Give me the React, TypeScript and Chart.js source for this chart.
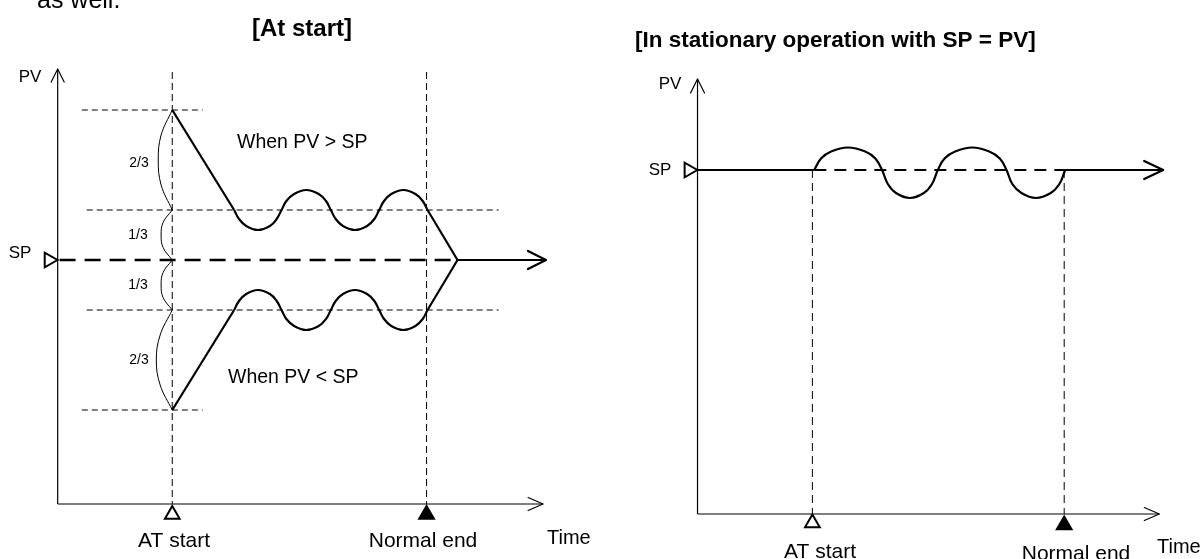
import React, { useEffect, useRef } from "react";
import { Chart, registerables } from "chart.js";

Chart.register(...registerables);

// ---------------- LEFT PANEL: [At start] ----------------
// time in half-wave units (0 = PV axis), PV in units of 1/3 band (0 = SP)
const lAtStart = 2.37;
const lNormalEnd = 7.63;
const lTimeAxisLevel = -4.88;
const lTimeAxisEnd = 10.04;
const lPvAxisTop = 3.82;
const lVLineTop = 3.76;
const lStartLevels = [3, -3];
const lBandLevels = [1, -1];

const lUpperApproachX = [2.37, 3.65];
const lUpperApproachY = [3, 1];
const lLowerApproachX = [2.37, 3.65];
const lLowerApproachY = [-3, -1];

const lOscX = [3.65, 3.75, 3.9, 4.14, 4.39, 4.53, 4.63, 4.73, 4.89, 5.14, 5.4, 5.55, 5.65, 5.75, 5.9, 6.15, 6.4, 6.55, 6.65, 6.75, 6.9, 7.15, 7.4, 7.55, 7.65];
const lUpperOscY = [1, 0.82, 0.68, 0.6, 0.68, 0.82, 1, 1.18, 1.32, 1.4, 1.32, 1.18, 1, 0.82, 0.68, 0.6, 0.68, 0.82, 1, 1.18, 1.32, 1.4, 1.32, 1.18, 1];
const lLowerOscY = [-1, -0.82, -0.68, -0.6, -0.68, -0.82, -1, -1.18, -1.32, -1.4, -1.32, -1.18, -1, -0.82, -0.68, -0.6, -0.68, -0.82, -1, -1.18, -1.32, -1.4, -1.32, -1.18, -1];

const lUpperExitX = [7.65, 8.27];
const lUpperExitY = [1, 0];
const lLowerExitX = [7.65, 8.27];
const lLowerExitY = [-1, 0];
const lSettledX = [8.27, 10.1];
const lSettledY = [0, 0];
const lSpDashX = [0.04, 8.27];

const lBraceX = [
  [2.37, 2.14, 2.08, 2.14, 2.37],
  [2.37, 2.18, 2.14, 2.18, 2.37],
  [2.37, 2.18, 2.14, 2.18, 2.37],
  [2.37, 2.12, 2.04, 2.12, 2.37],
];
const lBraceY = [
  [3, 2.5, 2, 1.5, 1],
  [1, 0.75, 0.5, 0.25, 0],
  [0, -0.25, -0.5, -0.75, -1],
  [-1, -1.5, -2, -2.5, -3],
];
const lFractionLabels = ["2/3", "1/3", "1/3", "2/3"];

// ---------------- RIGHT PANEL: stationary SP = PV ----------------
const rAtStart = 2.39;
const rNormalEnd = 7.63;
const rTimeAxisLevel = -6.88;
const rTimeAxisEnd = 9.61;
const rPvAxisTop = 1.82;

const rBeforeX = [0, 2.43];
const rBeforeY = [0, 0];
const rOscX = [2.43, 2.57, 2.78, 3.13, 3.49, 3.7, 3.84, 3.96, 4.13, 4.42, 4.71, 4.88, 5.0, 5.14, 5.36, 5.72, 6.07, 6.29, 6.43, 6.55, 6.74, 7.04, 7.35, 7.53, 7.65];
const rOscY = [0, 0.23, 0.37, 0.45, 0.37, 0.23, 0, -0.28, -0.46, -0.56, -0.46, -0.28, 0, 0.23, 0.37, 0.45, 0.37, 0.23, 0, -0.28, -0.46, -0.56, -0.46, -0.28, 0];
const rAfterX = [7.65, 9.69];
const rAfterY = [0, 0];
const rSpDashX = [2.43, 7.65];

// ---------------- helpers ----------------
type XY = { x: number; y: number };
const zip = (xs: number[], ys: number[]): XY[] => xs.map((x, i) => ({ x, y: ys[i] }));

const FONT = '"Liberation Sans", Arial, Helvetica, sans-serif';

const seg = (data: XY[], extra: any = {}) => ({
  data,
  showLine: true,
  pointRadius: 0,
  borderColor: "#000",
  borderWidth: 1,
  fill: false,
  clip: false,
  tension: 0,
  ...extra,
});

const marker = (x: number, y: number, filled: boolean, rotation = 0) => ({
  data: [{ x, y }],
  showLine: false,
  pointStyle: "triangle",
  pointRadius: 8.5,
  pointRotation: rotation,
  pointBorderWidth: 2,
  pointBorderColor: "#000",
  pointBackgroundColor: filled ? "#000" : "#fff",
  clip: false,
});

type TextItem = { text: string; x: number; y: number; font: string; align?: CanvasTextAlign; baseline?: CanvasTextBaseline };
type Arrow = { x: number; y: number; dir: "up" | "right"; len: number; half: number; w: number };

const overlay = (texts: TextItem[], arrows: Arrow[]) => ({
  id: "overlay",
  beforeDraw(chart: any) {
    const c = chart.ctx;
    c.save();
    c.fillStyle = "#fff";
    c.fillRect(0, 0, chart.width, chart.height);
    c.restore();
  },
  afterDatasetsDraw(chart: any) {
    const c = chart.ctx;
    const xs = chart.scales.x;
    const ys = chart.scales.y;
    c.save();
    c.strokeStyle = "#000";
    c.lineCap = "round";
    c.lineJoin = "round";
    for (const a of arrows) {
      const tx = xs.getPixelForValue(a.x);
      const ty = ys.getPixelForValue(a.y);
      c.lineWidth = a.w;
      c.beginPath();
      if (a.dir === "right") {
        c.moveTo(tx - a.len, ty - a.half);
        c.lineTo(tx, ty);
        c.lineTo(tx - a.len, ty + a.half);
      } else {
        c.moveTo(tx - a.half, ty + a.len);
        c.lineTo(tx, ty);
        c.lineTo(tx + a.half, ty + a.len);
      }
      c.stroke();
    }
    c.fillStyle = "#000";
    for (const t of texts) {
      c.font = t.font;
      c.textAlign = t.align ?? "left";
      c.textBaseline = t.baseline ?? "middle";
      c.fillText(t.text, t.x, t.y);
    }
    c.restore();
  },
});

const baseOptions = (xmin: number, xmax: number, ymin: number, ymax: number, padding: any) => ({
  responsive: false,
  animation: false,
  events: [],
  layout: { padding },
  plugins: { legend: { display: false }, tooltip: { enabled: false }, title: { display: false } },
  scales: {
    x: { type: "linear", min: xmin, max: xmax, display: false },
    y: { type: "linear", min: ymin, max: ymax, display: false },
  },
});

function leftConfig(): any {
  const thinDash = { borderDash: [6, 4], borderWidth: 1 };
  const curve = { borderWidth: 2.2 };
  const wave = { borderWidth: 2.2, tension: 0.4 };
  const datasets: any[] = [
    marker(lAtStart, -5.09, false),
    marker(lNormalEnd, -5.09, true),
    marker(-0.18, 0, false, 90),
    // curves
    seg(zip(lUpperApproachX, lUpperApproachY), curve),
    seg(zip(lOscX, lUpperOscY), wave),
    seg(zip(lUpperExitX, lUpperExitY), curve),
    seg(zip(lLowerApproachX, lLowerApproachY), curve),
    seg(zip(lOscX, lLowerOscY), wave),
    seg(zip(lLowerExitX, lLowerExitY), curve),
    seg(zip(lSettledX, lSettledY), curve),
    // SP dashed
    seg(zip(lSpDashX, [0, 0]), { borderWidth: 2.4, borderDash: [16, 9] }),
    // reference levels
    seg(zip([0.5, 3.0], [lStartLevels[0], lStartLevels[0]]), thinDash),
    seg(zip([0.5, 3.0], [lStartLevels[1], lStartLevels[1]]), thinDash),
    seg(zip([0.6, 9.12], [lBandLevels[0], lBandLevels[0]]), thinDash),
    seg(zip([0.6, 9.12], [lBandLevels[1], lBandLevels[1]]), thinDash),
    // vertical event lines
    seg(zip([lAtStart, lAtStart], [lVLineTop, lTimeAxisLevel]), { borderDash: [7, 4], borderWidth: 1 }),
    seg(zip([lNormalEnd, lNormalEnd], [lVLineTop, lTimeAxisLevel]), { borderDash: [7, 4], borderWidth: 1 }),
    // axes
    seg(zip([0, 0], [lTimeAxisLevel, lPvAxisTop]), { borderWidth: 1.2 }),
    seg(zip([0, lTimeAxisEnd], [lTimeAxisLevel, lTimeAxisLevel]), { borderWidth: 1.2 }),
  ];
  lBraceX.forEach((bx, i) => datasets.push(seg(zip(bx, lBraceY[i]), { borderWidth: 1, tension: 0.4 })));

  const lab = `21px ${FONT}`;
  const texts: TextItem[] = [
    { text: "as well.", x: 37, y: 8, font: `25px ${FONT}`, baseline: "alphabetic" },
    { text: "[At start]", x: 302, y: 29, font: `bold 24px ${FONT}`, align: "center" },
    { text: "PV", x: 30, y: 77, font: `17px ${FONT}`, align: "center" },
    { text: "SP", x: 20, y: 253, font: `17px ${FONT}`, align: "center" },
    { text: lFractionLabels[0], x: 139, y: 163, font: `14px ${FONT}`, align: "center" },
    { text: lFractionLabels[1], x: 138, y: 235, font: `14px ${FONT}`, align: "center" },
    { text: lFractionLabels[2], x: 138, y: 285, font: `14px ${FONT}`, align: "center" },
    { text: lFractionLabels[3], x: 139, y: 360, font: `14px ${FONT}`, align: "center" },
    { text: "When PV > SP", x: 237, y: 143, font: `19.5px ${FONT}` },
    { text: "When PV < SP", x: 228, y: 378, font: `19.5px ${FONT}` },
    { text: "AT start", x: 174, y: 541, font: lab, align: "center" },
    { text: "Normal end", x: 423, y: 541, font: lab, align: "center" },
    { text: "Time", x: 547, y: 538, font: `20px ${FONT}` },
  ];
  const arrows: Arrow[] = [
    { x: 0, y: lPvAxisTop, dir: "up", len: 13, half: 6.5, w: 1.2 },
    { x: lTimeAxisEnd, y: lTimeAxisLevel, dir: "right", len: 15, half: 6.5, w: 1.2 },
    { x: lSettledX[1], y: 0, dir: "right", len: 18, half: 9, w: 2.2 },
  ];
  return {
    type: "scatter",
    data: { datasets },
    options: baseOptions(-0.5, 11, -5.5, 4.2, { left: 33.5, right: 3, top: 50, bottom: 24 }),
    plugins: [overlay(texts, arrows)],
  };
}

function rightConfig(): any {
  const curve = { borderWidth: 2.2 };
  const datasets: any[] = [
    marker(rAtStart, -7.06, false),
    marker(rNormalEnd, -7.1, true),
    marker(-0.18, 0, false, 90),
    seg(zip(rBeforeX, rBeforeY), curve),
    seg(zip(rOscX, rOscY), { borderWidth: 2.2, tension: 0.4 }),
    seg(zip(rAfterX, rAfterY), curve),
    seg(zip(rSpDashX, [0, 0]), { borderWidth: 2, borderDash: [12, 8] }),
    seg(zip([rAtStart, rAtStart], [0, rTimeAxisLevel]), { borderDash: [8, 5], borderWidth: 1 }),
    seg(zip([rNormalEnd, rNormalEnd], [0, rTimeAxisLevel]), { borderDash: [8, 5], borderWidth: 1 }),
    seg(zip([0, 0], [rTimeAxisLevel, rPvAxisTop]), { borderWidth: 1.2 }),
    seg(zip([0, rTimeAxisEnd], [rTimeAxisLevel, rTimeAxisLevel]), { borderWidth: 1.2 }),
  ];
  const lab = `21px ${FONT}`;
  const texts: TextItem[] = [
    { text: "[In stationary operation with SP = PV]", x: 35, y: 41, font: `bold 22.5px ${FONT}` },
    { text: "PV", x: 70, y: 84, font: `17px ${FONT}`, align: "center" },
    { text: "SP", x: 60, y: 170, font: `17px ${FONT}`, align: "center" },
    { text: "AT start", x: 220, y: 552, font: lab, align: "center" },
    { text: "Normal end", x: 476, y: 554, font: lab, align: "center" },
    { text: "Time", x: 557, y: 547, font: `20px ${FONT}` },
  ];
  const arrows: Arrow[] = [
    { x: 0, y: rPvAxisTop, dir: "up", len: 14, half: 7, w: 1.2 },
    { x: rTimeAxisEnd, y: rTimeAxisLevel, dir: "right", len: 15, half: 6.5, w: 1.2 },
    { x: rAfterX[1], y: 0, dir: "right", len: 19, half: 9, w: 2.2 },
  ];
  return {
    type: "scatter",
    data: { datasets },
    options: baseOptions(-0.5, 10.3, -7.3, 2.6, { left: 73.5, right: 0.3, top: 40, bottom: 24 }),
    plugins: [overlay(texts, arrows)],
  };
}

function Panel({ width, height, make }: { width: number; height: number; make: () => any }) {
  const ref = useRef<HTMLCanvasElement>(null);
  useEffect(() => {
    const chart = new Chart(ref.current as HTMLCanvasElement, make());
    return () => chart.destroy();
  }, []);
  return <canvas ref={ref} width={width} height={height} style={{ display: "block", width, height }} />;
}

export default function App() {
  return (
    <div
      style={{
        position: "fixed",
        left: 0,
        top: 0,
        width: 1203,
        height: 559,
        display: "flex",
        background: "#fff",
        overflow: "hidden",
      }}
    >
      <Panel width={600} height={559} make={leftConfig} />
      <Panel width={603} height={559} make={rightConfig} />
    </div>
  );
}
